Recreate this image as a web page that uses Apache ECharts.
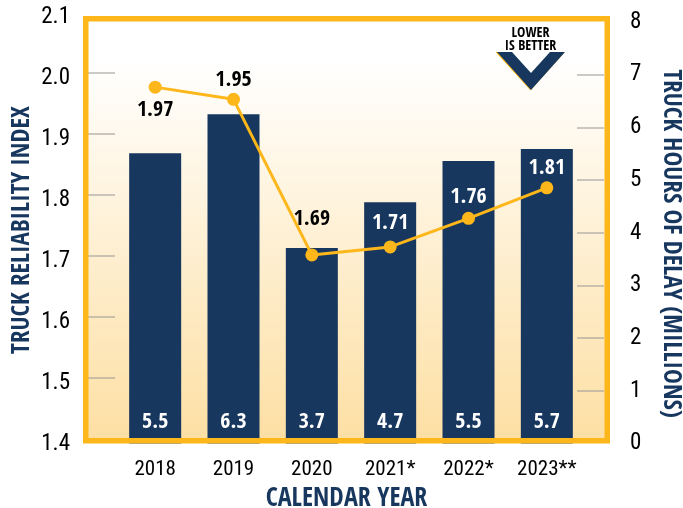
<!DOCTYPE html>
<html><head><meta charset="utf-8">
<style>html,body{margin:0;padding:0;background:#fff}#c{width:683px;height:508px}</style>
<script src="https://cdn.jsdelivr.net/npm/echarts@6/dist/echarts.min.js"></script>
</head><body><div id="c"></div>
<script>
const categories = ['2018','2019','2020','2021*','2022*','2023**'];
const delayHeights = [5.51,6.25,3.71,4.58,5.36,5.59];
const delayLabels = ['5.5','6.3','3.7','4.7','5.5','5.7'];
const reliabilityPoints = [1.976,1.956,1.701,1.714,1.761,1.811];
const reliabilityLabels = ['1.97','1.95','1.69','1.71','1.76','1.81'];
const leftTicks = ['1.4','1.5','1.6','1.7','1.8','1.9','2.0','2.1'];
const rightTicks = ['0','1','2','3','4','5','6','7','8'];
const leftTickMarks = [1.5,1.6,1.7,1.8,1.9,2.0];
const rightTickMarks = [1,2,3,4,5,6,7];

const NAVY='#17375e', GOLD='#fdb71a', FONT='"Open Sans Condensed","Roboto Condensed",sans-serif', TICKFONT='"Roboto Condensed","Open Sans Condensed",sans-serif';
const labelPos = ['bottom','top','top','top','top','top'];
const labelColor = ['#000','#000','#000','#fff','#fff','#fff'];
const labelDist = [6,2,18,6,4,2];
const TICK={show:true,inside:true,length:27,lineStyle:{color:'rgba(150,150,150,0.5)',width:2}};

const chart = echarts.init(document.getElementById('c'), null, {renderer:'canvas'});
chart.setOption({
  animation:false,
  textStyle:{fontFamily:FONT},
  grid:[
    {left:116,right:97,top:22,bottom:64.5,outerBoundsMode:'none'},
    {left:116,right:97,top:11.5,bottom:69.5,outerBoundsMode:'none'}
  ],
  xAxis:[
    {type:'category',gridIndex:0,data:categories,
     axisLine:{show:false},axisTick:{show:false},
     axisLabel:{interval:0,color:'#000',fontSize:21,margin:16,fontFamily:TICKFONT},
     name:'CALENDAR YEAR',nameLocation:'middle',nameGap:43,
     nameTextStyle:{color:NAVY,fontSize:26,fontWeight:'bold',fontFamily:FONT,padding:[0,9,0,0]}},
    {type:'category',gridIndex:1,data:categories,show:false}
  ],
  yAxis:[
    {type:'value',gridIndex:1,position:'left',offset:28,min:1.4,max:2.1,interval:0.1,
     axisLine:{show:false},
     axisTick:{...TICK,customValues:leftTickMarks},
     splitLine:{show:false},
     axisLabel:{color:'#000',fontSize:23,margin:18,fontFamily:TICKFONT,formatter:v=>leftTicks[Math.round((v-1.4)*10)],
       verticalAlign:'top',padding:[-6,0,0,0]},
     name:'TRUCK RELIABILITY INDEX',nameLocation:'middle',nameGap:53,nameRotate:90,nameMoveOverlap:false,
     nameTextStyle:{color:NAVY,fontSize:25,fontWeight:'bold',fontFamily:FONT,padding:[0,10,0,0]}},
    {type:'value',gridIndex:0,position:'right',offset:18,min:0,max:8,interval:1,
     axisLine:{show:false},
     axisTick:{...TICK,customValues:rightTickMarks},
     splitLine:{show:false},
     axisLabel:{color:'#000',fontSize:23,margin:26,fontFamily:TICKFONT,formatter:v=>rightTicks[v]},
     name:'TRUCK HOURS OF DELAY (MILLIONS)',nameLocation:'middle',nameGap:54,nameRotate:-90,nameMoveOverlap:false,
     nameTextStyle:{color:NAVY,fontSize:25,fontWeight:'bold',fontFamily:FONT,padding:[0,0,0,22]}}
  ],
  series:[
    {type:'bar',xAxisIndex:0,yAxisIndex:1,barWidth:52,z:2,
     itemStyle:{color:NAVY},
     data:delayHeights,
     label:{show:true,position:'insideBottom',distance:10,color:'#fff',fontSize:22,fontWeight:'bold',fontFamily:FONT,
       formatter:p=>delayLabels[p.dataIndex]}},
    {type:'line',xAxisIndex:1,yAxisIndex:0,z:3,symbol:'circle',symbolSize:13,
     lineStyle:{color:GOLD,width:3},itemStyle:{color:GOLD},
     data:reliabilityPoints.map((v,i)=>({value:v,label:{show:true,position:labelPos[i],distance:labelDist[i],
        color:labelColor[i],fontSize:22,fontWeight:'bold',fontFamily:FONT,formatter:reliabilityLabels[i]}}))}
  ],
  graphic:{elements:[
    {type:'rect',z:-10,shape:{x:86,y:19,width:521,height:422},
     style:{fill:new echarts.graphic.LinearGradient(0,0,0,1,[{offset:0,color:'#ffffff'},{offset:0.1,color:'#ffffff'},{offset:1,color:'#fddfa3'}])}},
    {type:'rect',z:100,shape:{x:85.75,y:18.75,width:521.5,height:422},
     style:{fill:null,stroke:GOLD,lineWidth:5.5}},
    {type:'polygon',z:100,shape:{points:[[495.5,52],[530.5,90.5],[564,53],[551,52],[530.5,74.5],[510,52]]},style:{fill:GOLD}},
    {type:'polygon',z:101,shape:{points:[[497,52],[531,90],[565,52],[550,52],[531,73],[512,52]]},style:{fill:NAVY}},
    {type:'text',z:102,style:{x:530.5,y:33,text:'LOWER',textAlign:'center',textVerticalAlign:'middle',fill:'#000',font:'bold 14px '+FONT}},
    {type:'text',z:102,style:{x:530.5,y:46,text:'IS BETTER',textAlign:'center',textVerticalAlign:'middle',fill:'#000',font:'bold 14px '+FONT}}
  ]}
});
</script></body></html>
